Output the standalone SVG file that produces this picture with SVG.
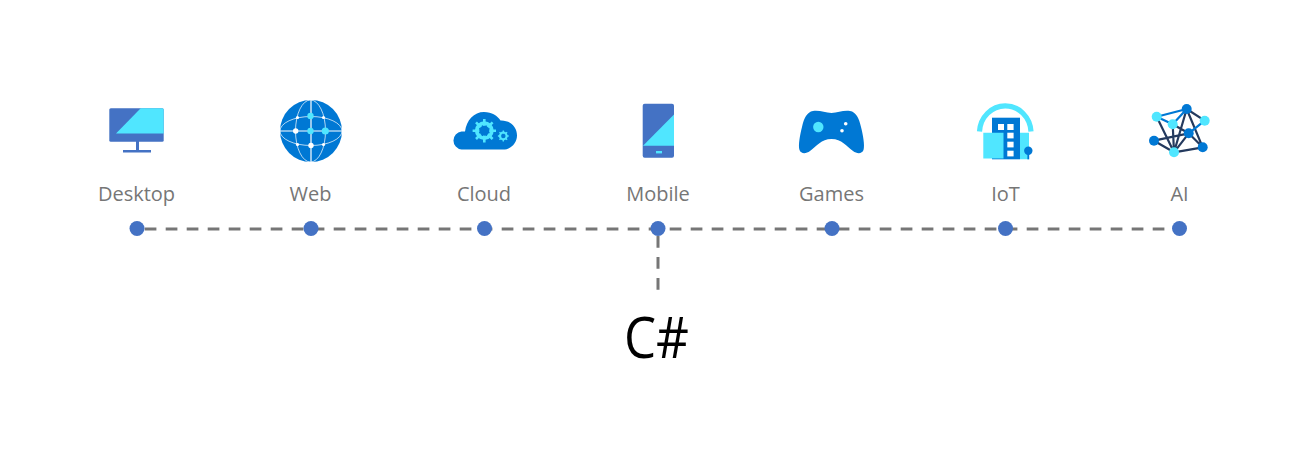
<svg xmlns="http://www.w3.org/2000/svg" width="1310" height="457" viewBox="0 0 1310 457">
<style>
.lbl{font-family:"Open Sans","Noto Sans","Liberation Sans",sans-serif;font-size:20px;fill:#767676;text-anchor:middle}
.dot{fill:#4472c4}
.dash{fill:none;stroke:#767676;stroke-width:3;stroke-dasharray:11.7 9.3}
.b{fill:#0078d4}.c{fill:#50e6ff}.s{fill:#4472c4}.w{fill:#fff}
.gl{fill:none;stroke:#fff;stroke-width:0.7}
.gm{fill:none;stroke:#fff;stroke-width:1.2}
.e1{stroke:#243a5e;stroke-width:2.2;fill:none}
.e2{stroke:#0078d4;stroke-width:2.2;fill:none}
</style>
<rect width="1310" height="457" fill="#fff"/>
<g id="connectors">
<path class="dash" d="M144.700 229H1170"/>
<path class="dash" d="M658 236V290"/>
</g>
<g id="desktop">
<rect class="s" x="109.300" y="108.300" width="54.400" height="33.400" rx="1.500"/>
<path class="c" d="M140.700 108.300H162.200A1.500 1.500 0 0 1 163.700 109.800V133.500H116Z"/>
<path class="s" d="M136 141h3v9h12v2.600H123V150h13Z"/>
<text class="lbl" x="136.500" y="200.500">Desktop</text>
<circle class="dot" cx="137" cy="228.500" r="7.500"/>
</g>
<g id="web">
<circle class="b" cx="311" cy="131" r="31"/>
<path class="gm" d="M311 100V162M280 131H342"/>
<ellipse class="gl" cx="310.500" cy="131" rx="15" ry="31"/>
<ellipse class="gl" cx="311" cy="131" rx="31" ry="14.500"/>
<g class="w"><circle cx="295.700" cy="131" r="2.700"/><circle cx="311" cy="145.500" r="2.700"/><circle cx="297.500" cy="117.500" r="1.600"/><circle cx="323.500" cy="117.500" r="1.600"/><circle cx="297.500" cy="144.500" r="1.600"/><circle cx="323.500" cy="144.500" r="1.600"/></g>
<g class="c"><circle cx="310.500" cy="116" r="3.200"/><circle cx="310.500" cy="131" r="3.200"/><circle cx="325.300" cy="131" r="3.600"/></g>
<text class="lbl" x="310.500" y="200.500">Web</text>
<circle class="dot" cx="311" cy="228.500" r="7.500"/>
</g>
<g id="cloud">
<path class="b" d="M461.500 149.500A9 9 0 0 1 461.500 131.600H465C466.500 120 474 112 484 112C492 112 497.500 116 500.500 120.500C510 120 517 127 517 135.500C517 143.500 510.500 149.500 503 149.500Z"/>
<circle cx="484.300" cy="130.700" r="7.500" fill="none" stroke="#50e6ff" stroke-width="3.800"/>
<path d="M484.300 119V142.400M472.600 130.700H496M476 122.400L492.600 139M492.600 122.400L476 139" stroke="#50e6ff" stroke-width="2.600" fill="none"/>
<circle class="b" cx="484.300" cy="130.700" r="5"/>
<circle cx="503.300" cy="136" r="3.400" fill="none" stroke="#50e6ff" stroke-width="2"/>
<path d="M503.300 130.600V141.400M497.900 136H508.700M499.500 132.200L507.100 139.800M507.100 132.200L499.500 139.800" stroke="#50e6ff" stroke-width="1.400" fill="none"/>
<circle class="b" cx="503.300" cy="136" r="2.200"/>
<text class="lbl" x="484" y="200.500">Cloud</text>
<circle class="dot" cx="484.500" cy="228.500" r="7.500"/>
</g>
<g id="mobile">
<rect class="s" x="642.700" y="103.800" width="31.300" height="54" rx="2"/>
<path class="c" d="M674 114.500V145.700H643Z"/>
<rect class="c" x="656" y="151" width="6" height="2.400"/>
<text class="lbl" x="658" y="200.500">Mobile</text>
<circle class="dot" cx="658" cy="228.500" r="7.500"/>
</g>
<g id="games">
<path class="b" d="M813 111C820 110 825 113 831.500 113C838 113 843 110 850 111C856 112 859 118 861 127C863 135 865 145 863.500 150C862 154 857 154 853 151C846 146 842 139 831.500 139C821 139 817 146 810 151C806 154 801 154 799.500 150C798 145 800 135 802 127C804 118 807 112 813 111Z"/>
<circle class="c" cx="818.300" cy="127" r="5.200"/>
<circle class="w" cx="845.700" cy="123.700" r="1.800"/>
<circle class="w" cx="842" cy="130.700" r="1.800"/>
<text class="lbl" x="831.500" y="200.500">Games</text>
<circle class="dot" cx="832" cy="228.500" r="7.500"/>
</g>
<g id="iot">
<path d="M979.500 131.500A25.800 27.400 0 0 1 1031 131.500" fill="none" stroke="#50e6ff" stroke-width="5.200"/>
<rect class="b" x="992" y="117.700" width="28" height="41.600"/>
<path class="c" d="M983.300 132.700H1003.500V158.600H983.300ZM1020 132.700H1029V159.300H1020Z"/>
<g class="w"><rect x="998" y="124" width="6" height="6"/><rect x="1007.300" y="124" width="6.300" height="6"/><rect x="1007.300" y="132.700" width="6.300" height="5.700"/><rect x="1007.300" y="141.700" width="6.300" height="5.700"/><rect x="1007.300" y="150.700" width="6.300" height="5.700"/></g>
<circle class="b" cx="1028.300" cy="150.700" r="4.200"/>
<rect class="b" x="1027.400" y="152" width="1.800" height="7.300"/>
<text class="lbl" x="1005.500" y="200.500">IoT</text>
<circle class="dot" cx="1005.500" cy="228.500" r="7.500"/>
</g>
<g id="ai">
<path class="e1" d="M1156.700 116.700L1174 152.300M1154 140.700L1174 152.300M1154 140.700L1188.700 133.300M1186.700 109L1174 152.300M1172.700 124.300L1174 152.300M1188.700 133.300L1174 152.300M1202.700 147.300L1174 152.300M1186.700 109L1202.700 147.300M1186.700 109L1204.700 120.700M1172.700 124.300L1188.700 133.300M1188.700 133.300L1202.700 147.300"/>
<path class="e2" d="M1156.700 116.700L1186.700 109M1156.700 116.700L1172.700 124.300M1172.700 124.300L1186.700 109M1188.700 133.300L1204.700 120.700"/>
<g class="c"><circle cx="1156.700" cy="116.700" r="5"/><circle cx="1204.700" cy="120.700" r="5"/><circle cx="1172.700" cy="124.300" r="5"/><circle cx="1174" cy="152.300" r="5"/></g>
<g class="b"><circle cx="1186.700" cy="109" r="5"/><circle cx="1188.700" cy="133.300" r="5"/><circle cx="1154" cy="140.700" r="5"/><circle cx="1202.700" cy="147.300" r="5"/></g>
<text class="lbl" x="1179.500" y="200.500">AI</text>
<circle class="dot" cx="1179.500" cy="228.500" r="7.500"/>
</g>
<g id="csharp">
<text x="624" y="357.500" font-family="'Open Sans','Noto Sans','Liberation Sans',sans-serif" font-size="56" fill="#000" textLength="65" lengthAdjust="spacingAndGlyphs">C#</text>
</g>
</svg>
